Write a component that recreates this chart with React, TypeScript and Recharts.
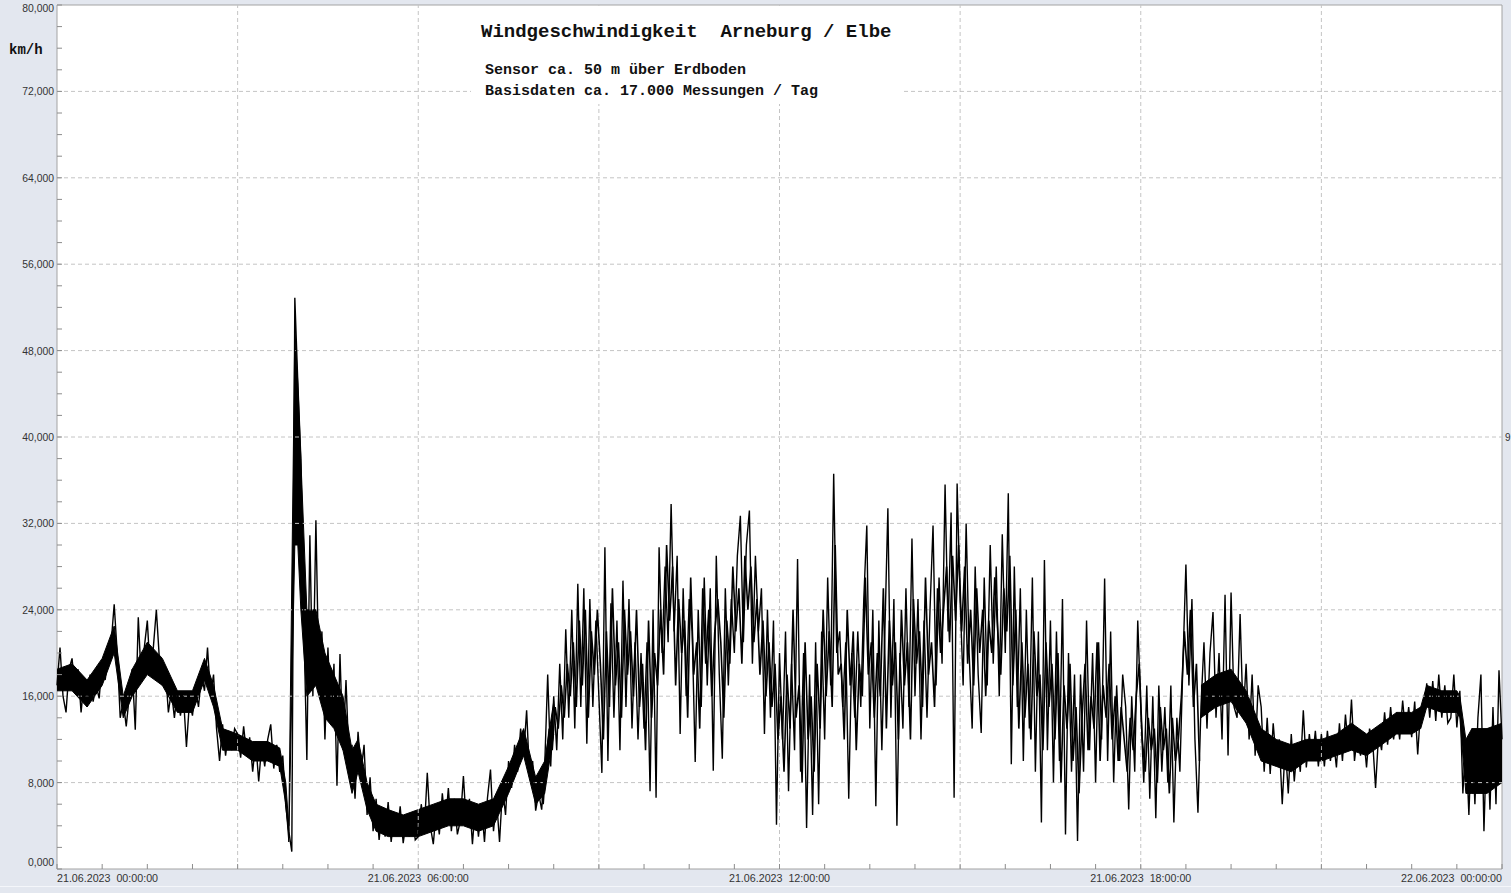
import { ComposedChart, Line, Area, XAxis, YAxis, ReferenceLine, ReferenceArea } from 'recharts'

// wind speed in km/h, one row per hour, one value every 3 minutes
const h00 = [17, 20.5, 16, 14.5, 18.5, 19.5, 16.5, 18.5, 14.5, 17.5, 15, 18, 15.5, 17, 15.8, 19, 17.5, 19.5, 21, 24.5]
const h01 = [20, 14, 15.5, 13.2, 16, 18.5, 12.9, 23.3, 17.5, 20.5, 23, 18, 20.5, 24, 19.5, 17, 18.5, 14.5, 16.5, 14]
const h02 = [16.5, 14.2, 16, 11.3, 15.5, 14.2, 16.8, 15, 18, 16.5, 20.5, 16, 18, 13, 10, 13.4, 10.5, 12.8, 11, 13]
const h03 = [12.5, 10.3, 13.2, 10.5, 12.2, 9, 11.8, 8.1, 11.5, 9.5, 12, 13.4, 9.3, 11.5, 9, 10.5, 5.8, 3.5, 1.6, 52.9]
const h04 = [45, 38, 22.7, 10.1, 30.9, 16, 32.3, 17.5, 22, 12, 20.5, 13.4, 19, 7.7, 19.9, 11, 17.5, 10, 11.5, 6.5]
const h05 = [12.7, 9, 11.5, 5, 8.5, 3.5, 6.5, 2.7, 5.5, 3, 6.2, 2.5, 5, 3.2, 5.8, 2.4, 4.5, 3, 5.2, 2.7]
const h06 = [3, 6, 3.5, 8.9, 4, 2.3, 5.5, 3.2, 7, 4, 7.5, 3.5, 6.5, 3.2, 4.5, 8.6, 4, 6.5, 2.3, 6]
const h07 = [3, 6, 2.5, 6.6, 9.2, 3.5, 6.5, 2.5, 7.5, 5, 10, 7.5, 11.5, 9, 13, 10.5, 14.7, 8.5, 10, 5.4]
const h08 = [7, 5.5, 9.5, 18, 9.5, 16, 11, 19, 12, 22.2, 14, 24, 13, 26.4, 15, 26, 11.6, 25, 15, 23]
const h09 = [16, 8.9, 29.8, 10, 24.6, 14, 23, 11, 26.7, 15, 25, 13, 21, 12, 20, 13, 21, 7.2, 24, 6.6]
const h10 = [29.8, 20, 28, 21, 33.8, 22, 29, 12.5, 26, 16, 25, 22, 9.9, 24, 15, 27, 17, 26, 9.1, 29]
const h11 = [18, 10.2, 26, 17, 25, 20, 29, 32.7, 21, 30, 33.2, 19, 29, 22, 26, 12.5, 24, 14, 23, 4.1]
const h12 = [20, 12, 22, 7.2, 19, 11, 28.7, 9, 20, 3.8, 18, 5, 21, 6, 22, 12, 27, 17, 36.6, 20]
const h13 = [22, 15, 21, 6.5, 20, 14, 22, 15, 25, 31.8, 13, 24, 5.8, 23, 11, 22, 33.4, 14, 25, 4]
const h14 = [20, 13, 26, 15, 30.6, 16, 25, 12, 23, 14, 24, 31.8, 17, 27, 19, 35.6, 22, 33, 6.6, 35.7]
const h15 = [25, 17, 32, 20, 13, 28, 18, 12.6, 27, 17, 30, 19, 28, 16, 31, 20, 34.8, 9.7, 28, 15]
const h16 = [26, 10, 24, 13, 27, 9, 22, 4.3, 28.6, 11, 23, 8, 22, 10, 25, 3.2, 20, 9, 18, 2.6]
const h17 = [18, 9, 23, 11, 20, 8, 21, 12, 26.9, 10, 22, 8, 17, 10, 18, 15, 5.5, 16, 9, 23]
const h18 = [15, 8, 17, 6.5, 16, 4.7, 17, 9, 15, 8, 17, 4.3, 14, 9, 19, 28.2, 17, 25, 12, 5.2]
const h19 = [15, 21, 13, 20, 23.8, 14, 20, 12, 25.4, 10.5, 25.6, 15, 14, 23.6, 14, 19, 12, 18, 10.5, 17]
const h20 = [15, 9, 14, 8.8, 13.5, 10, 12, 6, 11.5, 7, 12.5, 8.1, 11.5, 9, 14.7, 9.4, 12.5, 10, 12.8, 9.5]
const h21 = [12.5, 9.5, 12.8, 10, 12, 9.4, 13.5, 10, 14.3, 11, 15.7, 10, 12.5, 10.5, 12.5, 9.4, 13, 12, 7.5, 12.5]
const h22 = [11, 14.5, 11.5, 15, 12, 14.5, 12, 15.6, 12.5, 15, 12.2, 15.5, 10.6, 15, 14.3, 17.2, 14, 17.4, 13.7, 18]
const h23 = [14, 17, 13.5, 14, 18, 13.1, 16.5, 7, 12, 5, 13, 6, 14, 18, 3.5, 13, 5.5, 15, 6, 18.4]
const lastValue = 12

const hourRows = [h00, h01, h02, h03, h04, h05, h06, h07, h08, h09, h10, h11, h12, h13, h14, h15, h16, h17, h18, h19, h20, h21, h22, h23]

// readings in between (1.5 min later) for the gusty hours 08:00 - 19:00
const m08 = [8, 6, 10, 13, 11, 15, 13, 17, 14, 19, 16, 21, 15, 23, 17, 24, 14, 22, 18, 24]
const m09 = [19, 12, 22, 15, 26, 17, 21, 14, 24, 18, 22, 16, 24, 15, 19, 11, 23, 14, 20, 17]
const m10 = [24, 18, 30, 23, 28, 17, 25, 20, 23, 14, 27, 18, 21, 13, 26, 19, 24, 16, 22, 25]
const m11 = [21, 14, 23, 19, 28, 22, 26, 19, 29, 24, 28, 21, 25, 18, 23, 16, 21, 15, 19, 12]
const m12 = [16, 9, 18, 13, 24, 14, 17, 8, 21, 12, 16, 9, 19, 13, 24, 16, 22, 15, 30, 18]
const m13 = [19, 12, 24, 17, 22, 11, 19, 16, 27, 18, 21, 14, 20, 16, 26, 13, 23, 17, 21, 12]
const m14 = [24, 17, 21, 12, 25, 19, 22, 15, 27, 18, 21, 15, 26, 20, 24, 28, 21, 29, 23, 30]
const m15 = [22, 28, 19, 24, 17, 26, 20, 24, 16, 23, 20, 27, 22, 18, 26, 22, 29, 17, 24, 13]
const m16 = [21, 14, 19, 12, 22, 16, 18, 11, 21, 15, 19, 12, 20, 8, 17, 13, 19, 10, 15, 7]
const m17 = [14, 19, 11, 16, 13, 21, 10, 17, 14, 19, 12, 16, 10, 15, 12, 9, 14, 11, 16, 19]
const m18 = [12, 9, 14, 11, 13, 8, 15, 11, 13, 7, 14, 10, 12, 16, 22, 18, 24, 15, 19, 10]
const midStartHour = 8
const midRows = [m08, m09, m10, m11, m12, m13, m14, m15, m16, m17, m18]

// dense core of the measurements in the calm hours (before 08:15 and after 19:00)
const coreHoursEarly = [0, 0.25, 0.5, 0.75, 0.95, 1.1, 1.25, 1.5, 1.75, 2, 2.25, 2.45, 2.6, 2.75, 3, 3.25, 3.5, 3.7, 3.8, 3.85, 3.95, 4, 4.05, 4.15, 4.3, 4.45, 4.6, 4.75, 4.9, 5, 5.15, 5.3, 5.5, 5.75, 6, 6.25, 6.5, 6.75, 7, 7.25, 7.5, 7.75, 7.95, 8.1, 8.25]
const coreLowEarly = [16.5, 16.5, 15, 17, 20, 14, 16, 18, 17, 14.5, 14.5, 17.5, 15, 11, 11, 10, 10, 9.5, 6, 2.5, 30, 30, 24, 16, 17, 14, 13, 11, 7, 9, 5.5, 3.5, 3, 3, 3, 3.5, 4, 4, 3.5, 4, 7, 10.5, 6, 7, 12.5]
const coreHighEarly = [18.5, 19, 17.5, 19.5, 22.5, 16, 18.5, 21, 19.5, 16.5, 16.5, 19.5, 17, 13, 12.5, 11.8, 11.8, 11.2, 8, 4, 50, 45, 38, 24, 24, 20, 18, 16, 11, 12, 8, 6, 5.5, 5, 5.5, 6, 6.5, 6.5, 6, 6.5, 9.5, 13, 8.5, 10, 15.5]
const coreHoursLate = [19, 19.25, 19.5, 19.75, 20, 20.25, 20.5, 20.75, 21, 21.25, 21.5, 21.75, 22, 22.25, 22.5, 22.65, 22.75, 23, 23.25, 23.3, 23.4, 23.5, 23.75, 24]
const coreLowLate = [14, 15, 15.5, 13.5, 10, 9.5, 9, 10, 10, 10.5, 11, 10.5, 11.5, 12.5, 12.5, 13, 15, 14.5, 14.5, 14, 7, 7, 7, 8]
const coreHighLate = [17, 18, 18.5, 16.5, 13, 12, 11.5, 12, 12, 12.5, 13.5, 12.5, 13.5, 14.5, 14.5, 15, 17, 16.5, 16.5, 16, 12, 13, 13, 13.5]

const xLabelHours = [0, 6, 12, 18, 24]
const xLabels = ['21.06.2023  00:00:00', '21.06.2023  06:00:00', '21.06.2023  12:00:00', '21.06.2023  18:00:00', '22.06.2023  00:00:00']
const xGridHours = [3, 6, 9, 12, 15, 18, 21]
const xMinorTicks = [0, 0.75, 1.5, 2.25, 3, 3.75, 4.5, 5.25, 6, 6.75, 7.5, 8.25, 9, 9.75, 10.5, 11.25, 12, 12.75, 13.5, 14.25, 15, 15.75, 16.5, 17.25, 18, 18.75, 19.5, 20.25, 21, 21.75, 22.5, 23.25, 24]
const yLabelValues = [0, 8, 16, 24, 32, 40, 48, 56, 64, 72, 80]
const yLabels = ['0,000', '8,000', '16,000', '24,000', '32,000', '40,000', '48,000', '56,000', '64,000', '72,000', '80,000']
const yMinorTicks = [0, 2, 4, 6, 8, 10, 12, 14, 16, 18, 20, 22, 24, 26, 28, 30, 32, 34, 36, 38, 40, 42, 44, 46, 48, 50, 52, 54, 56, 58, 60, 62, 64, 66, 68, 70, 72, 74, 76, 78, 80]

// everything on a 1.5 minute grid (40 steps per hour)
type Row = { t: number; v?: number; w?: number; coreA?: [number, number]; coreB?: [number, number] }
const grid = new Map<number, Row>()
const at = (step: number) => {
  if (!grid.has(step)) grid.set(step, { t: step / 40 })
  return grid.get(step)!
}
hourRows.forEach((row, h) => row.forEach((v, i) => (at((h * 20 + i) * 2).v = v)))
at(960).v = lastValue
midRows.forEach((row, h) => row.forEach((w, i) => (at(((midStartHour + h) * 20 + i) * 2 + 1).w = w)))
coreHoursEarly.forEach((t, i) => (at(Math.round(t * 40)).coreA = [coreLowEarly[i], coreHighEarly[i]]))
coreHoursLate.forEach((t, i) => (at(Math.round(t * 40)).coreB = [coreLowLate[i], coreHighLate[i]]))
const data = [...grid.keys()].sort((a, b) => a - b).map((k) => grid.get(k)!)

const tickColor = '#8c8c8c'
const labelFont = '"Liberation Sans", Arial, sans-serif'
const monoFont = '"Liberation Mono", "Courier New", monospace'

const XTick = (props: any) => {
  const { x, y, payload } = props
  const i = xLabelHours.indexOf(payload.value)
  const anchor = i === 0 ? 'start' : i === xLabelHours.length - 1 ? 'end' : 'middle'
  return (
    <g>
      <line x1={x} x2={x} y1={y} y2={y - 5} stroke={tickColor} />
      {i >= 0 && (
        <text x={x} y={y + 13} textAnchor={anchor} fontSize={10.7} fontFamily={labelFont} fill='#333' style={{ whiteSpace: 'pre' }}>
          {xLabels[i]}
        </text>
      )}
    </g>
  )
}

const YTick = (props: any) => {
  const { x, y, payload } = props
  const i = yLabelValues.indexOf(payload.value)
  let dy = 4
  if (payload.value === 0) dy = -3
  if (payload.value === 80) dy = 7
  return (
    <g>
      <line x1={x} x2={x + 5} y1={y} y2={y} stroke={tickColor} />
      {i >= 0 && (
        <text x={x - 3} y={y + dy} textAnchor='end' fontSize={10.4} fontFamily={labelFont} fill='#333'>
          {yLabels[i]}
        </text>
      )}
    </g>
  )
}

export default function App() {
  return (
    <div style={{ position: 'absolute', left: 0, top: 0, width: 1511, height: 893, background: '#e3e7ef', overflow: 'hidden' }}>
      <ComposedChart width={1511} height={893} data={data} margin={{ top: 5, right: 9, bottom: 0, left: 0 }}>
        <XAxis
          dataKey='t'
          type='number'
          domain={[0, 24]}
          ticks={xMinorTicks}
          interval={0}
          height={24}
          axisLine={false}
          tickLine={false}
          tickSize={0}
          tickMargin={0}
          tick={XTick}
        />
        <YAxis
          type='number'
          domain={[0, 80]}
          ticks={yMinorTicks}
          interval={0}
          width={57}
          axisLine={false}
          tickLine={false}
          tickSize={0}
          tickMargin={0}
          tick={YTick}
        />
        <ReferenceArea x1={0} x2={24} y1={0} y2={80} fill='#ffffff' fillOpacity={1} stroke='#a3a3a3' />
        {xGridHours.map((h) => (
          <ReferenceLine key={`x${h}`} x={h} stroke='#c4c4c4' strokeDasharray='4 3' />
        ))}
        {yLabelValues.slice(1, -1).map((v) => (
          <ReferenceLine key={`y${v}`} y={v} stroke='#c4c4c4' strokeDasharray='4 3' />
        ))}
        <Area dataKey='coreA' type='linear' fill='#000' fillOpacity={1} stroke='#000' strokeWidth={1} connectNulls dot={false} activeDot={false} isAnimationActive={false} />
        <Area dataKey='coreB' type='linear' fill='#000' fillOpacity={1} stroke='#000' strokeWidth={1} connectNulls dot={false} activeDot={false} isAnimationActive={false} />
        <Line dataKey='w' type='linear' stroke='#000' strokeWidth={1.6} connectNulls dot={false} activeDot={false} isAnimationActive={false} />
        <Line dataKey='v' type='linear' stroke='#000' strokeWidth={1.4} connectNulls dot={false} activeDot={false} isAnimationActive={false} />
      </ComposedChart>
      <svg width={1511} height={893} style={{ position: 'absolute', left: 0, top: 0, pointerEvents: 'none' }}>
        <rect x={471} y={6} width={432} height={98} fill='#ffffff' />
        <text x={481} y={37} fontSize={19} fontWeight='bold' fontFamily={monoFont} fill='#111' style={{ whiteSpace: 'pre' }}>
          Windgeschwindigkeit  Arneburg / Elbe
        </text>
        <text x={485} y={74} fontSize={15} fontWeight='bold' fontFamily={monoFont} fill='#111'>
          Sensor ca. 50 m über Erdboden
        </text>
        <text x={485} y={95} fontSize={15} fontWeight='bold' fontFamily={monoFont} fill='#111'>
          Basisdaten ca. 17.000 Messungen / Tag
        </text>
        <text x={9} y={54} fontSize={14} fontWeight='bold' fontFamily={monoFont} fill='#111'>
          km/h
        </text>
        <text x={1505} y={441} fontSize={10} fontFamily={labelFont} fill='#333'>
          9
        </text>
        <rect x={0} y={886} width={1511} height={1} fill='#f4f6fa' />
      </svg>
    </div>
  )
}
